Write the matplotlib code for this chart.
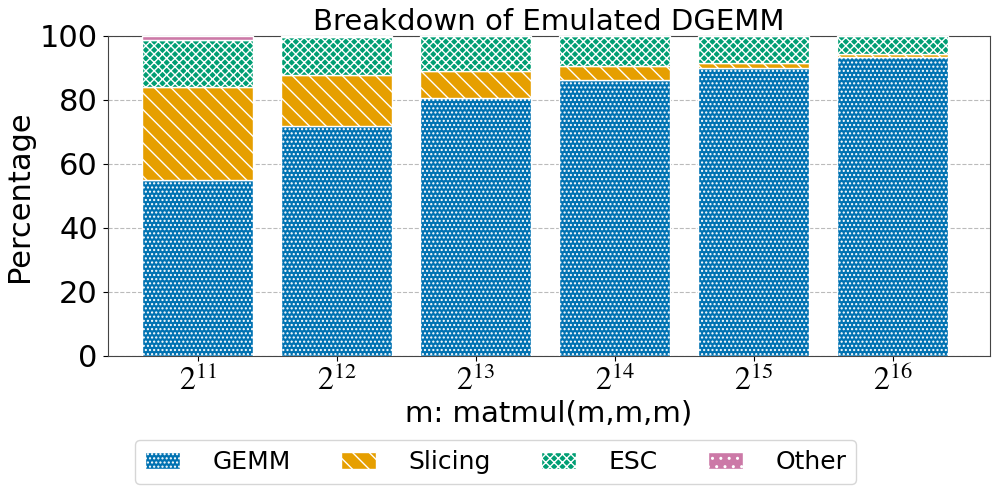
import matplotlib
matplotlib.use('Agg')
import matplotlib.pyplot as plt
import numpy as np

# percentages
sizes = ['$2^{11}$', '$2^{12}$', '$2^{13}$', '$2^{14}$', '$2^{15}$', '$2^{16}$']
gemm = [55.0, 71.9, 80.5, 86.25, 90.1, 93.5]
slicing = [29.1, 16.0, 8.7, 4.35, 1.6, 0.8]
esc = [14.65, 11.8, 10.7, 9.3, 8.2, 5.6]
other = [1.25, 0.3, 0.1, 0.1, 0.1, 0.1]

plt.rcParams['mathtext.fontset'] = 'stix'
plt.rcParams['hatch.linewidth'] = 1.0

fig, ax = plt.subplots(figsize=(9.96, 4.93), dpi=100)
fig.subplots_adjust(left=0.108, right=0.994, top=0.927, bottom=0.278)

x = np.arange(len(sizes))
w = 0.8
series = [('GEMM', gemm, '#0072B2', '....'),
          ('Slicing', slicing, '#E69F00', '\\\\'),
          ('ESC', esc, '#009E73', 'xxxx'),
          ('Other', other, '#CC79A7', '..')]
bottom = np.zeros(len(sizes))
for name, vals, col, hat in series:
    ax.bar(x, vals, w, bottom=bottom, color=col, edgecolor='white',
           hatch=hat, linewidth=1, label=name, zorder=3)
    bottom += np.array(vals)

ax.set_ylim(0, 100)
ax.set_xlim(-0.65, 5.7)
ax.set_xticks(x)
ax.set_xticklabels(sizes, fontsize=23)
ax.tick_params(axis='y', labelsize=22)
ax.yaxis.grid(True, linestyle='--', color='#bbbbbb', linewidth=0.8, zorder=0)
ax.set_axisbelow(True)
ax.set_title('Breakdown of Emulated DGEMM', fontsize=21, pad=3)
ax.set_xlabel('m: matmul(m,m,m)', fontsize=21, labelpad=2)
ax.set_ylabel('Percentage', fontsize=22)
for s in ax.spines.values():
    s.set_color('#444444')

ax.legend(loc='upper center', bbox_to_anchor=(0.44, -0.225), ncol=4,
          fontsize=18, frameon=True, handlelength=1.4, handletextpad=1.3,
          columnspacing=2.0)

plt.savefig('out.png', dpi=100)
